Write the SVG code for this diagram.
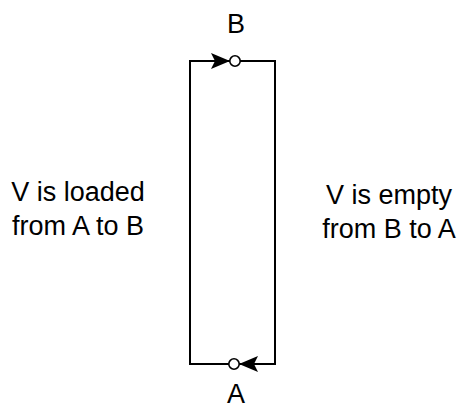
<svg xmlns="http://www.w3.org/2000/svg" width="458" height="410" viewBox="0 0 458 410">
<style>
.t{font-family:"Liberation Sans",Arial,sans-serif;font-size:27px;fill:#000;text-anchor:middle}
.w{fill:none;stroke:#000;stroke-width:2}
.c{fill:#fff;stroke:#000;stroke-width:1.6}
</style>
<rect width="458" height="410" fill="#fff"/>
<g id="connectors">
<path class="w" d="M230,61 H190 V364 H229"/>
<path class="w" d="M240,61 H275 V364 H239"/>
<polygon points="230,61 211,53 215,61 211,69" fill="#000"/>
<polygon points="239,364 258,356 254,364 258,372" fill="#000"/>
</g>
<g id="nodeB">
<circle class="c" cx="235" cy="61" r="5.2"/>
<text class="t" x="236" y="33">B</text>
</g>
<g id="nodeA">
<circle class="c" cx="234" cy="364" r="5.2"/>
<text class="t" x="236" y="403">A</text>
</g>
<g id="labelLeft">
<text class="t" x="78" y="201">V is loaded</text>
<text class="t" x="78" y="235">from A to B</text>
</g>
<g id="labelRight">
<text class="t" x="389" y="204">V is empty</text>
<text class="t" x="389" y="238">from B to A</text>
</g>
</svg>
